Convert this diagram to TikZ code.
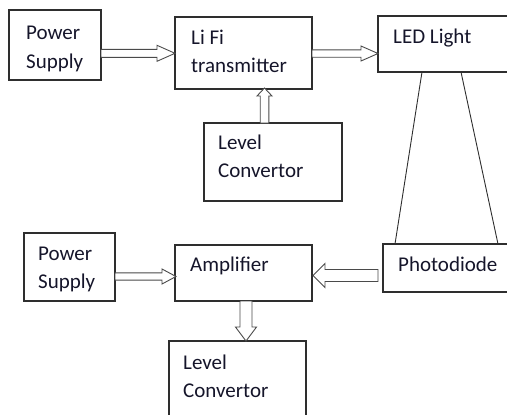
\documentclass[tikz,border=0pt]{standalone}
\usepackage{fontspec}
\setmainfont{Carlito}
\usetikzlibrary{calc}
\definecolor{boxline}{HTML}{2E2E2E}
\definecolor{arrline}{HTML}{4A4A4A}
\definecolor{txt}{HTML}{15152A}
\tikzset{
  blk/.style={draw=boxline, line width=1.1pt},
  lbl/.style={anchor=base west, inner sep=0pt, text=txt, font=\fontsize{21}{24}\selectfont},
  harrowstyle/.style={draw=arrline, line width=0.9pt, fill=white, line join=miter},
}
% #1 tail, #2 tip, #3 shaft half-width, #4 head half-width, #5 head length
\newcommand\hollowarrow[5]{%
  \coordinate (hb) at ($(#2)!#5pt!(#1)$);
  \draw[harrowstyle] ($(#1)!#3pt!90:(#2)$) -- ($(hb)!#3pt!90:(#2)$) -- ($(hb)!#4pt!90:(#2)$)
    -- (#2) -- ($(hb)!#4pt!-90:(#2)$) -- ($(hb)!#3pt!-90:(#2)$) -- ($(#1)!#3pt!-90:(#2)$) -- cycle;
}
\begin{document}
\begin{tikzpicture}[x=1pt,y=-1pt]
\useasboundingbox (0,0) rectangle (507,415);
% boxes
\draw[blk] (9,10) rectangle (101,80);
\draw[blk] (175,17) rectangle (312,89);
\draw[blk] (204,123) rectangle (342,201);
\draw[blk] (378,16) rectangle (515,72);
\draw[blk] (383,244) rectangle (515,292);
\draw[blk] (175,245) rectangle (312,301);
\draw[blk] (24,233) rectangle (115,301);
\draw[blk] (169,341) rectangle (306,425);
% texts
\node[lbl] (t1) at (26,39) {Power};
\node[lbl] (t2) at (26,68) {Supply};
\node[lbl] (t3) at (191,44) {Li Fi};
\node[lbl] (t4) at (191,72) {transmitter};
\node[lbl] (t5) at (218,149) {Level};
\node[lbl] (t6) at (218,177) {Convertor};
\node[lbl] (t7) at (393,43) {LED Light};
\node[lbl] (t8) at (398,271) {Photodiode};
\node[lbl] (t9) at (190,271) {Amplifier};
\node[lbl] (t10) at (38,260) {Power};
\node[lbl] (t11) at (38,288) {Supply};
\node[lbl] (t12) at (183,369) {Level};
\node[lbl] (t13) at (183,397) {Convertor};
% beam lines
\coordinate (b1) at (422,72); \coordinate (b2) at (395,244);
\coordinate (b3) at (461,72); \coordinate (b4) at (498,244);
\draw[boxline, line width=0.9pt] (b1) -- (b2) (b3) -- (b4);
% arrows
\coordinate (a1s) at (101,53.3); \coordinate (a1e) at (175,53.3);
\hollowarrow{a1s}{a1e}{4}{8}{18}
\coordinate (a2s) at (312,53.5); \coordinate (a2e) at (378,53.5);
\hollowarrow{a2s}{a2e}{3.7}{7.5}{17}
\coordinate (a3s) at (264.5,123); \coordinate (a3e) at (264.5,88);
\hollowarrow{a3s}{a3e}{4.3}{7.5}{8}
\coordinate (a4s) at (115,276.5); \coordinate (a4e) at (176,276.5);
\hollowarrow{a4s}{a4e}{3.6}{7.5}{14}
\coordinate (a5s) at (378,275.5); \coordinate (a5e) at (313,275.5);
\hollowarrow{a5s}{a5e}{6}{12}{12}
\coordinate (a6s) at (246,301); \coordinate (a6e) at (246,341);
\hollowarrow{a6s}{a6e}{6}{10.5}{14}
\end{tikzpicture}
\end{document}
